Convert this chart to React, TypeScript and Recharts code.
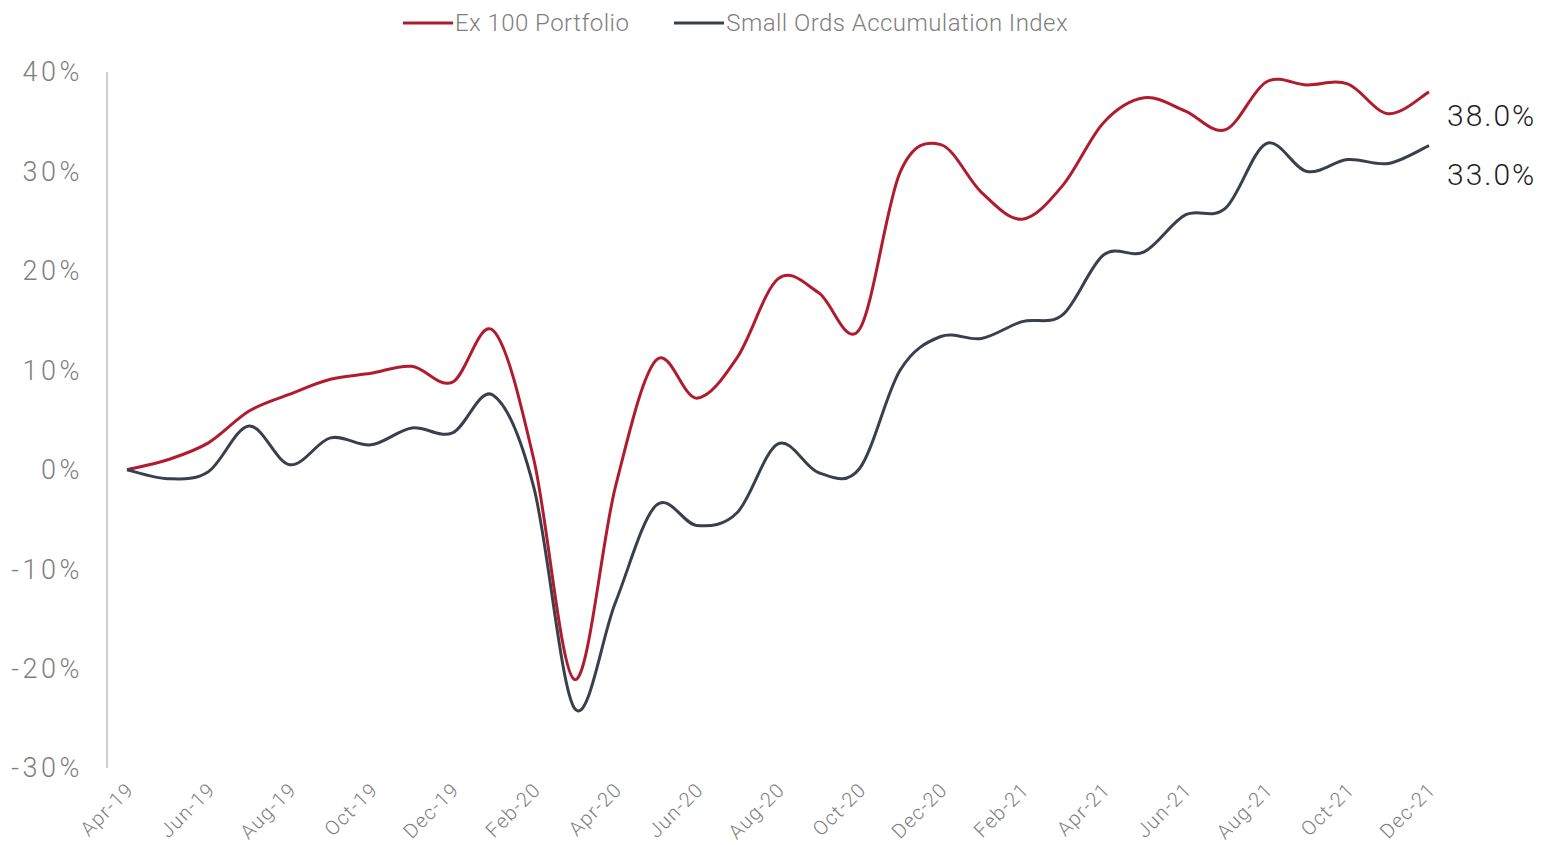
import React from 'react';
import { LineChart, Line, XAxis, YAxis, Legend } from 'recharts';

const months = [
  'Apr-19', 'May-19', 'Jun-19', 'Jul-19', 'Aug-19', 'Sep-19', 'Oct-19', 'Nov-19', 'Dec-19',
  'Jan-20', 'Feb-20', 'Mar-20', 'Apr-20', 'May-20', 'Jun-20', 'Jul-20', 'Aug-20', 'Sep-20',
  'Oct-20', 'Nov-20', 'Dec-20', 'Jan-21', 'Feb-21', 'Mar-21', 'Apr-21', 'May-21', 'Jun-21',
  'Jul-21', 'Aug-21', 'Sep-21', 'Oct-21', 'Nov-21', 'Dec-21',
];

const ex100 = [
  0, 1.0, 2.7, 5.9, 7.6, 9.1, 9.7, 10.4, 8.8,
  14.0, 1.0, -21.1, -1.8, 11.0, 7.2, 11.3, 19.2, 17.8,
  14.1, 29.9, 32.7, 27.9, 25.2, 28.6, 34.9, 37.4, 36.1,
  34.2, 39.0, 38.7, 38.8, 35.8, 38.0,
];

const smallOrds = [
  0, -0.9, -0.2, 4.4, 0.5, 3.2, 2.5, 4.2, 3.7,
  7.5, -1.8, -24.0, -13.4, -3.6, -5.6, -4.3, 2.6, -0.3,
  0.1, 10.0, 13.4, 13.2, 14.9, 15.6, 21.6, 21.9, 25.6,
  26.3, 32.8, 30.0, 31.2, 30.8, 32.6,
];

const endLabels = ['38.0%', '33.0%'];
const yTicks = [-30, -20, -10, 0, 10, 20, 30, 40];

const seriesNames = ['Ex 100 Portfolio', 'Small Ords Accumulation Index'];
const colors = ['#b01c2e', '#3a3f4d'];

const data = months.map((m, i) => ({ month: m, ex100: ex100[i], smallOrds: smallOrds[i] }));

const FONT = 'Roboto, "Open Sans", sans-serif';

// Catmull-Rom style smoothing (similar to spreadsheet "smoothed line")
function smoothCurve(context: any) {
  let pts: number[][] = [];
  return {
    areaStart() {},
    areaEnd() {},
    lineStart() {
      pts = [];
    },
    point(x: number, y: number) {
      pts.push([+x, +y]);
    },
    lineEnd() {
      if (!pts.length) return;
      context.moveTo(pts[0][0], pts[0][1]);
      for (let i = 0; i < pts.length - 1; i++) {
        const p0 = pts[i - 1] || pts[i];
        const p1 = pts[i];
        const p2 = pts[i + 1];
        const p3 = pts[i + 2] || p2;
        context.bezierCurveTo(
          p1[0] + (p2[0] - p0[0]) / 6,
          p1[1] + (p2[1] - p0[1]) / 6,
          p2[0] - (p3[0] - p1[0]) / 6,
          p2[1] - (p3[1] - p1[1]) / 6,
          p2[0],
          p2[1]
        );
      }
    },
  };
}

const XTick = (props: any) => {
  const { x, y, payload } = props;
  return (
    <g transform={`translate(${x + 3},${y + 18})`}>
      <text
        x={0}
        y={0}
        dy="0.35em"
        textAnchor="end"
        transform="rotate(-45)"
        fill="#7f7f7f"
        fontSize={20}
        letterSpacing={1.2}
        fontFamily={FONT}
        fontWeight={300}
      >
        {payload.value}
      </text>
    </g>
  );
};

const YTick = (props: any) => {
  const { x, y, payload } = props;
  return (
    <text
      x={x + 3}
      y={y}
      dy="0.35em"
      textAnchor="end"
      fill="#7f7f7f"
      fontSize={27}
      letterSpacing={3.5}
      fontFamily={FONT}
      fontWeight={300}
    >
      {`${payload.value}%`}
    </text>
  );
};

const makeEndLabel = (text: string, dy: number) => (props: any) => {
  const { x, y, index } = props;
  if (index !== months.length - 1) return <g />;
  return (
    <text
      x={x + 18}
      y={y + dy}
      dy="0.35em"
      textAnchor="start"
      fill="#1f1f1f"
      fontSize={30}
      letterSpacing={2}
      fontFamily={FONT}
      fontWeight={300}
    >
      {text}
    </text>
  );
};

const LegendContent = (props: any) => {
  const { payload } = props;
  return (
    <div style={{ display: 'flex', alignItems: 'center', paddingLeft: 403, fontFamily: FONT }}>
      {(payload || []).map((entry: any, i: number) => (
        <div key={i} style={{ display: 'flex', alignItems: 'center', marginRight: 45 }}>
          <svg width={50} height={6} style={{ display: 'block' }}>
            <line x1={0} y1={3} x2={50} y2={3} stroke={entry.color} strokeWidth={3} />
          </svg>
          <span
            style={{
              fontSize: 24,
              letterSpacing: 0.45,
              color: '#7f7f7f',
              fontWeight: 300,
              marginLeft: 2,
            }}
          >
            {entry.value}
          </span>
        </div>
      ))}
    </div>
  );
};

export default function App() {
  return (
    <div style={{ position: 'absolute', left: 0, top: 0, width: 1542, height: 845, background: '#fff' }}>
      <LineChart
        width={1542}
        height={845}
        data={data}
        margin={{ top: 72, right: 93, bottom: 17, left: 0 }}
      >
        <XAxis
          dataKey="month"
          interval={1}
          axisLine={false}
          tickLine={false}
          tickSize={0}
          tickMargin={0}
          height={60}
          padding={{ left: 20, right: 20 }}
          tick={<XTick />}
        />
        <YAxis
          width={107}
          domain={[-30, 40]}
          ticks={yTicks}
          axisLine={{ stroke: '#bfbfbf', strokeWidth: 1.5 }}
          tickLine={false}
          tickSize={0}
          tickMargin={27}
          tick={<YTick />}
        />
        <Legend
          verticalAlign="middle"
          align="center"
          layout="horizontal"
          wrapperStyle={{ top: 9, left: 0, width: 1542 }}
          content={<LegendContent />}
        />
        <Line
          dataKey="ex100"
          name={seriesNames[0]}
          stroke={colors[0]}
          strokeWidth={3}
          dot={false}
          activeDot={false}
          type={smoothCurve as any}
          isAnimationActive={false}
          label={makeEndLabel(endLabels[0], 24)}
        />
        <Line
          dataKey="smallOrds"
          name={seriesNames[1]}
          stroke={colors[1]}
          strokeWidth={3}
          dot={false}
          activeDot={false}
          type={smoothCurve as any}
          isAnimationActive={false}
          label={makeEndLabel(endLabels[1], 29)}
        />
      </LineChart>
    </div>
  );
}
